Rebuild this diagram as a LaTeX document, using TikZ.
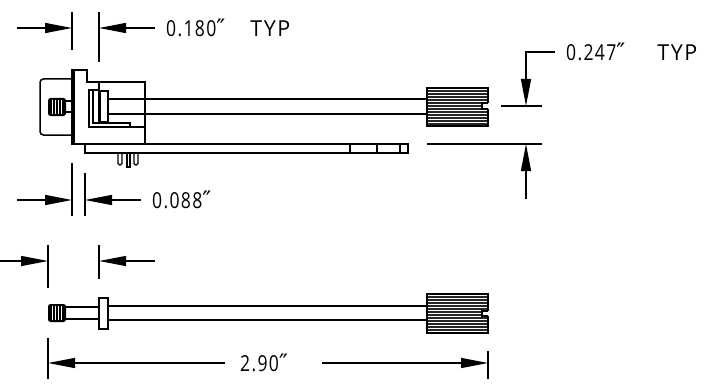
\documentclass[tikz,border=0pt]{standalone}
\usepackage{graphicx}
\usepackage{fontspec}
\setmainfont[LetterSpace=6,FakeStretch=0.8]{Open Sans}
\newfontfamily\primefont{DejaVu Sans}
\usetikzlibrary{arrows.meta}
\newcommand{\inchmark}{{\primefont\fontsize{24}{24}\selectfont ″}}
\newcommand{\typword}[1]{\hspace{#1}\scalebox{1.22}[1]{TYP}}
\tikzset{
  part/.style={line width=1.5pt,line join=miter},
  ext/.style={line width=1.3pt},
  dimtip/.style={-{Triangle[length=27pt,width=10pt]},line width=1.3pt,shorten >=0pt},
  lbl/.style={anchor=west,inner sep=0pt,font=\fontsize{22}{22}\selectfont},
  hatch/.style={line width=1.2pt,black!85},
}
\begin{document}
\begin{tikzpicture}[x=1pt,y=-1pt]
\useasboundingbox (0,0) rectangle (719,385);
% --- top view dimension 0.180
\draw[ext] (72,12) coordinate (a1) -- (72,50);
\draw[ext] (99,12) coordinate (a2) -- (99,62);
\coordinate (a3) at (72,28); \coordinate (a4) at (99,28);
\draw[dimtip] (17,28) -- (a3);
\draw[dimtip] (155,28) -- (a4);
\node[lbl] (t180) at (166,28) {0.180\inchmark\typword{25pt}};
% --- 0.247
\coordinate (b1) at (526,106); \coordinate (b2) at (526,144);
\draw[dimtip] (555,52) -- (526,52) -- (b1);
\draw[ext] (501,106) -- (542,106);
\draw[ext] (427,144) -- (542,144);
\draw[dimtip] (526,199) -- (b2);
\node[lbl] (t247) at (566,52) {0.247\inchmark\typword{32pt}};
% --- 0.088
\draw[ext] (72,163) -- (72,216);
\draw[ext] (85,173) -- (85,216);
\coordinate (c1) at (72,200); \coordinate (c2) at (85,200);
\draw[dimtip] (17,200) -- (c1);
\draw[dimtip] (141,200) -- (c2);
\node[lbl] (t088) at (152,200) {0.088\inchmark};
% --- bottom dims
\draw[ext] (48,245) -- (48,288);
\draw[ext] (99,245) -- (99,279);
\coordinate (d1) at (48,261); \coordinate (d2) at (99,261);
\draw[dimtip] (0,261) -- (d1);
\draw[dimtip] (155,261) -- (d2);
\draw[ext] (48,338) -- (48,379);
\draw[ext] (488,351) -- (488,379);
\coordinate (e1) at (48,363); \coordinate (e2) at (488,363);
\node[lbl] (t290) at (240,363) {2.90\inchmark};
\draw[dimtip] (225,363) -- (e1);
\draw[dimtip] (322,363) -- (e2);
% --- top part: connector
\draw[part,rounded corners=3.5pt] (72,79) -- (40,79) -- (40,135) -- (72,135);
\draw[part] (72,70) -- (87,70) -- (87,82) -- (145,82) -- (145,144) -- (72,144) -- cycle;
\draw[part] (74,70) -- (74,144);
\draw[part] (99,82) -- (99,90);
\draw[part] (145,127) -- (130,127);
\draw[part] (89,90) -- (99,90) -- (99,123) -- (130,123) -- (130,127) -- (89,127) -- cycle;
\draw[part] (93,90) -- (93,123) -- (99,123);
\draw[part,fill=white] (100,91) rectangle (108,122);
\draw[part] (66,101) -- (72,101) (66,112) -- (72,112);
% screw
\fill[black,rounded corners=2.5pt] (48,98) rectangle (66,116);
\foreach \x in {52,55,58,61}{\draw[white,line width=.3pt] (\x,100) -- (\x,114);}
% wires top
\draw[part] (108,99) -- (427,99);
\draw[part] (108,114) -- (427,114);
% board
\draw[part] (85,144) -- (85,153) -- (408,153) -- (408,144) -- (145,144);
\draw[part] (350,144) -- (350,153) (377,144) -- (377,153) (400,144) -- (400,153);
% pins
\draw[ext,rounded corners=1.5pt] (118,153) -- (118,165) -- (122,165) -- (122,153);
\draw[ext] (127,153) -- (127,167) -- (130,167) -- (130,153);
\draw[ext,rounded corners=1.5pt] (134,153) -- (134,165) -- (138,165) -- (138,153);
% knob top
\foreach \y in {91,94,...,124}{\draw[hatch] (427,\y) -- (488,\y);}
\fill[white] (482,103) rectangle (489,109);
\draw[part,line width=1.7pt] (488,103) -- (482,103) -- (482,109) -- (488,109);
\draw[part,line width=1.7pt] (488,103) -- (488,88) -- (427,88) -- (427,126) -- (488,126) -- (488,109);
% --- bottom part
\fill[black,rounded corners=2.5pt] (48,304) rectangle (66,322);
\foreach \x in {52,55,58,61}{\draw[white,line width=.3pt] (\x,306) -- (\x,320);}
\draw[part] (66,307) -- (99,307) (66,319) -- (99,319);
\draw[part] (99,298) rectangle (108,329);
\draw[part] (108,306) -- (427,306);
\draw[part] (108,320) -- (427,320);
\foreach \y in {297,300,...,330}{\draw[hatch] (427,\y) -- (488,\y);}
\fill[white] (482,311) rectangle (489,316);
\draw[part,line width=1.7pt] (488,311) -- (482,311) -- (482,316) -- (488,316);
\draw[part,line width=1.7pt] (488,311) -- (488,294) -- (427,294) -- (427,333) -- (488,333) -- (488,316);
\end{tikzpicture}
\end{document}
